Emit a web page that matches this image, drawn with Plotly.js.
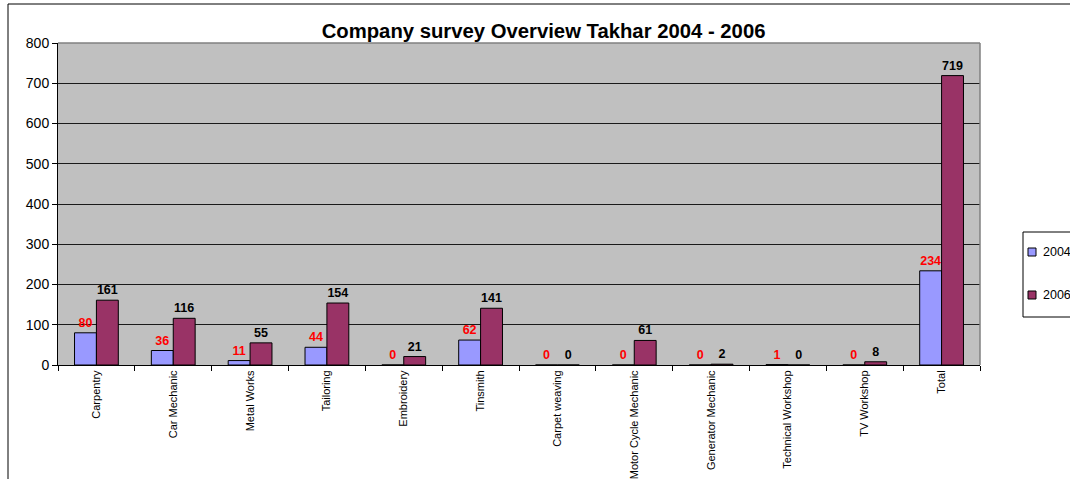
<!DOCTYPE html>
<html><head><meta charset="utf-8">
<script src="https://cdn.plot.ly/plotly-3.0.1.min.js"></script>
<style>html,body{margin:0;padding:0;background:#fff;}#chart{width:1070px;height:479px;}</style>
</head><body><div id="chart"></div>
<script>
const categories = ["Carpentry","Car Mechanic","Metal Works","Tailoring","Embroidery","Tinsmith","Carpet weaving","Motor Cycle Mechanic","Generator Mechanic","Technical Workshop","TV Workshop","Total"];
const values2004 = [80,36,11,44,0,62,0,0,0,1,0,234];
const values2006 = [161,116,55,154,21,141,0,61,2,0,8,719];
const seriesNames = ["2004","2006"];
const seriesColors = ["#9999FF","#993366"];
const labelColors = ["#FF0000","#000000"];
const yTicks = [0,100,200,300,400,500,600,700,800];

const font = "Arial, 'Liberation Sans', sans-serif";
const W = 1070, H = 479, M = {l:58, r:90, t:43, b:114};
const pw = W - M.l - M.r, ph = H - M.t - M.b;
const px = x => (x - M.l) / pw;
const py = y => (H - M.b - y) / ph;

const seriesValues = [values2004, values2006];
const traces = seriesNames.map((n, i) => ({
  type:'bar', name:n, x:categories, y:seriesValues[i],
  marker:{color:seriesColors[i], line:{color:'#000', width:1}},
  text:seriesValues[i].map(String), textposition:'outside', cliponaxis:false,
  textfont:{family:font, size:12.5, color:labelColors[i], weight:'bold'}
}));

const shapes = [
  {type:'line', xref:'paper', yref:'paper', x0:0, x1:1, y0:1, y1:1, line:{color:'#808080', width:1.5}, layer:'above'},
  {type:'line', xref:'paper', yref:'paper', x0:1, x1:1, y0:0, y1:1, line:{color:'#808080', width:1.5}, layer:'above'},
  {type:'rect', xref:'paper', yref:'paper', x0:px(8), x1:px(1080), y0:py(490), y1:py(4), line:{color:'#000', width:1}},
  {type:'rect', xref:'paper', yref:'paper', x0:px(1023), x1:px(1080), y0:py(317), y1:py(232), line:{color:'#000', width:1}, fillcolor:'#fff'}
];
const annotations = [];
const legendY = [252, 295];
seriesNames.forEach((n, i) => {
  shapes.push({type:'rect', xref:'paper', yref:'paper', x0:px(1028), x1:px(1036), y0:py(legendY[i]+4), y1:py(legendY[i]-4),
               line:{color:'#000', width:1}, fillcolor:seriesColors[i]});
  annotations.push({xref:'paper', yref:'paper', x:px(1041), y:py(legendY[i]), xanchor:'left', yanchor:'middle', showarrow:false,
                    text:n, font:{family:font, size:12.5, color:'#000'}});
});

const layout = {
  width:W, height:H,
  margin:M,
  paper_bgcolor:'#fff', plot_bgcolor:'#C0C0C0',
  font:{family:font, color:'#000'},
  title:{text:'<b>Company survey Overview Takhar 2004 - 2006</b>', font:{family:font, size:20.3, color:'#000'}, x:0.508, xanchor:'center', y:0.935, yanchor:'middle'},
  barmode:'group', bargap:0.43, bargroupgap:0,
  showlegend:false,
  xaxis:{type:'category', tickangle:-90, tickfont:{family:font, size:11}, ticks:'outside', tickson:'boundaries', ticklen:5, tickcolor:'#000',
         showline:true, linecolor:'#000', linewidth:1, showgrid:false, fixedrange:true},
  yaxis:{range:[0,800], tickvals:yTicks, ticktext:yTicks.map(String), tickfont:{family:font, size:14}, ticks:'outside', ticklen:5, tickcolor:'#000',
         showline:true, linecolor:'#000', linewidth:1, showgrid:true, gridcolor:'#1a1a1a', gridwidth:1, zeroline:false},
  shapes:shapes,
  annotations:annotations
};
Plotly.newPlot('chart', traces, layout, {displayModeBar:false, staticPlot:true});
</script></body></html>
